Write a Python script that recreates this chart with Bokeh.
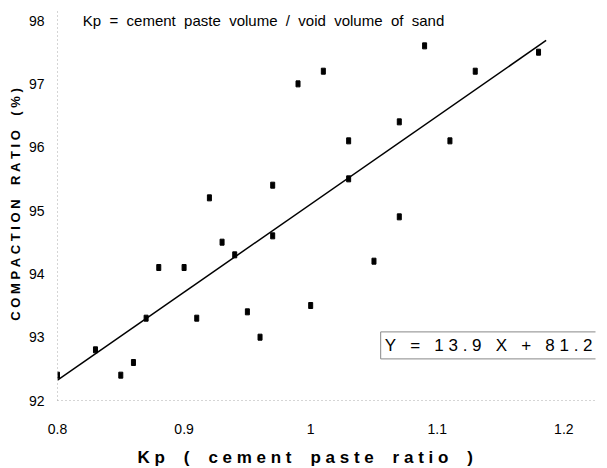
from bokeh.plotting import figure
from bokeh.models import Range1d, Label, ColumnDataSource, FixedTicker
from bokeh.embed import file_html
from bokeh.resources import INLINE

# Measured data: Kp (cement paste ratio) vs compaction ratio (%)
kp = [0.80, 0.83, 0.85, 0.86, 0.87, 0.88, 0.90, 0.91, 0.92, 0.93, 0.94, 0.95, 0.96,
      0.97, 0.97, 0.99, 1.00, 1.01, 1.03, 1.03, 1.05, 1.07, 1.07, 1.09, 1.11, 1.13, 1.18]
compaction = [92.4, 92.8, 92.4, 92.6, 93.3, 94.1, 94.1, 93.3, 95.2, 94.5, 94.3, 93.4, 93.0,
              95.4, 94.6, 97.0, 93.5, 97.2, 96.1, 95.5, 94.2, 96.4, 94.9, 97.6, 96.1, 97.2, 97.5]

# Regression line Y = slope * X + intercept
slope = 13.9
intercept = 81.2
fit_x = [0.80, 1.186]

x_ticks = [0.8, 0.9, 1.0, 1.1, 1.2]
x_tick_labels = {0.8: "0.8", 0.9: "0.9", 1.0: "1", 1.1: "1.1", 1.2: "1.2"}
y_ticks = [92, 93, 94, 95, 96, 97, 98]

FONT = "Liberation Sans"
NB = "\u00a0"


def spaced(words, letter_gap=1, word_gap=4):
    """Letter-spaced text using non-breaking spaces (SVG collapses plain spaces)."""
    return (NB * word_gap).join((NB * letter_gap).join(w) for w in words)


p = figure(width=607, height=468, output_backend="svg", toolbar_location=None,
           x_range=Range1d(0.8, 1.225), y_range=Range1d(92, 98.19),
           min_border_left=57, min_border_right=12, min_border_top=8, min_border_bottom=68)
p.frame_width = 538
p.frame_height = 392
p.outline_line_color = None
p.grid.grid_line_color = None
p.background_fill_color = "white"

for ax in (p.xaxis, p.yaxis):
    ax.axis_line_color = "#aaaaaa"
    ax.axis_line_dash = "1 3"
    ax.major_tick_line_color = None
    ax.minor_tick_line_color = None
    ax.major_label_text_font = FONT
    ax.major_label_text_font_size = "14px"
    ax.major_label_text_color = "black"
    ax.axis_label_text_font = FONT
    ax.axis_label_text_font_style = "bold"
    ax.axis_label_text_color = "black"

p.xaxis.ticker = FixedTicker(ticks=x_ticks)
p.xaxis.major_label_overrides = x_tick_labels
p.xaxis.major_label_standoff = 17
p.xaxis.axis_label = spaced(["Kp", "(", "cement", "paste", "ratio", ")"]) + NB * 9
p.xaxis.axis_label_text_font_size = "17px"
p.xaxis.axis_label_standoff = 11

p.yaxis.ticker = FixedTicker(ticks=y_ticks)
p.yaxis.major_label_standoff = 7
p.yaxis.axis_label = spaced(["COMPACTION", "RATIO", "(%)"])
p.yaxis.axis_label_text_font_size = "13px"
p.yaxis.axis_label_standoff = 3

# Regression line
fit_y = [slope * x + intercept for x in fit_x]
p.line(fit_x, fit_y, line_color="black", line_width=1.5)

# Data points as small dark rectangles
src = ColumnDataSource(dict(x=kp, y=compaction))
p.rect(x="x", y="y", width=4, height=6, width_units="screen", height_units="screen",
       source=src, fill_color="black", line_color="black")

# Definition note at the top
note = (NB * 2).join("Kp = cement paste volume / void volume of sand".split(" "))
p.add_layout(Label(x=0.82, y=98, text=note,
                   text_font=FONT, text_font_size="15px", text_baseline="middle",
                   text_color="black"))

# Regression equation box
eq_groups = ["Y", "=", str(slope), "X", "+", str(intercept)]
eq_text = spaced(eq_groups, letter_gap=1, word_gap=3)
p.add_layout(Label(x=1.0553, y=92.87, text=eq_text,
                   text_font=FONT, text_font_size="17px", text_baseline="middle",
                   text_color="black", border_line_color="#888888", border_line_width=1,
                   background_fill_color="white", padding=4))

open("out.html", "w").write(file_html(p, INLINE))
